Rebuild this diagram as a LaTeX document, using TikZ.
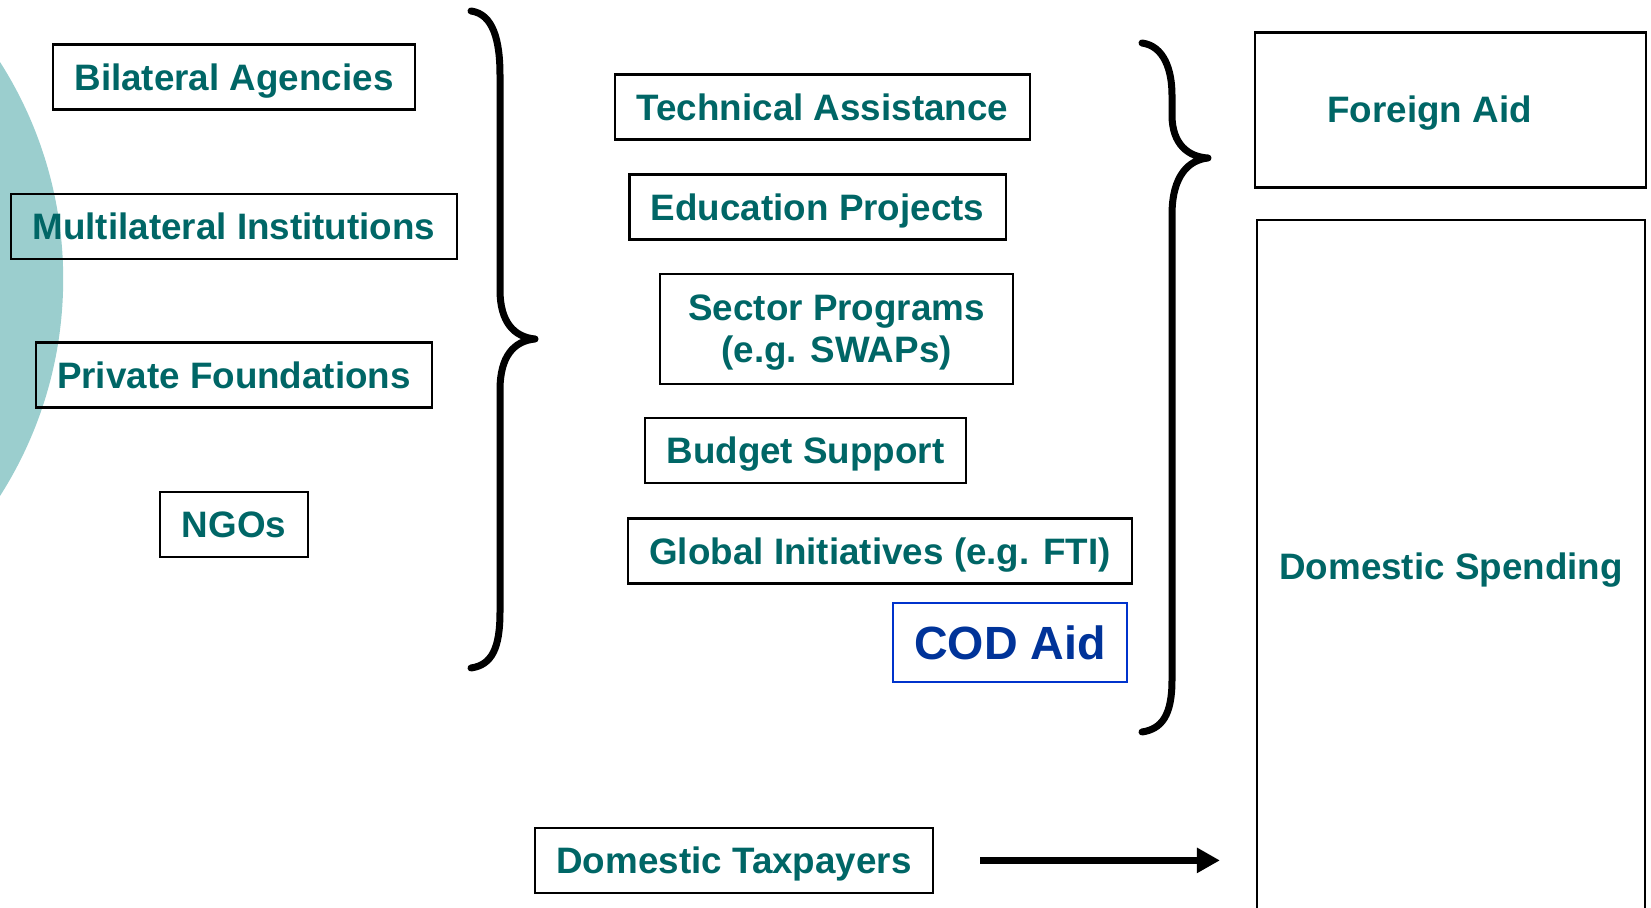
\documentclass[tikz,border=0pt]{standalone}
\usepackage{fontspec}
\setmainfont{Liberation Sans}
\usetikzlibrary{arrows.meta}
\definecolor{aidteal}{RGB}{0,102,102}
\definecolor{aidcircle}{RGB}{155,206,206}
\definecolor{codtext}{RGB}{0,51,153}
\definecolor{codline}{RGB}{0,51,204}
\begin{document}
\begin{tikzpicture}[x = 0.5pt, y = -0.5pt,
  lbl/.style = {text = aidteal, inner sep = 0pt, font = \fontsize{18.4}{21}\selectfont\bfseries},
  boxbase/.style = {lbl, draw, line width = 1.1pt, inner xsep = 10.75pt, inner ysep = 0pt, minimum height = 32.5pt},
  box/.style = {boxbase, text height = 13.2pt, text depth = 0pt},
  panel/.style = {draw, line width = 1.1pt, inner sep = 0pt},
  brace/.style = {line width = 3.5pt, line cap = round, line join = round},
  flow/.style = {line width = 3.5pt, -{Triangle[length = 11.5pt, width = 12pt]}}]
\useasboundingbox (0,0) rectangle (1651,908);
\clip (0,0) rectangle (1651,908);
\fill[color = aidcircle] (-340.6,279) circle[radius = 403.8];
\node[box] (bilateral) at (234,77) {Bilateral Agencies};
\node[box] (multilateral) at (234,226.5) {Multilateral Institutions};
\node[box] (private) at (234,375) {Private Foundations};
\node[box] (ngos) at (234,524.5) {NGOs};
\node[box] (technical) at (822.5,107) {Technical Assistance};
\node[box] (education) at (817.6,207) {Education Projects};
\node[boxbase, align = center, text depth = 0pt, minimum width = 176.5pt, minimum height = 55pt] (sector) at (836.6,329) {Sector Programs\\(e.g. SWAPs)};
\node[box] (budget) at (805.5,450.7) {Budget Support};
\node[box] (global) at (880,551) {Global Initiatives (e.g. FTI)};
\node[box, draw = codline, text = codtext, line width = 1pt, minimum height = 39.5pt, text height = 16.7pt, font = \fontsize{23.3}{28}\selectfont\bfseries] (cod) at (1010,643) {COD Aid};
\node[box] (taxpayers) at (734,860.4) {Domestic Taxpayers};
\node[panel, minimum width = 195.5pt, minimum height = 77.5pt] (foreign) at (1450.5,110) {};
\node[lbl, text height = 13.2pt, text depth = 0pt] (foreigntext) at (1429.5,109.5) {Foreign Aid};
\node[panel, minimum width = 194pt, minimum height = 360pt] (spending) at (1451,580) {};
\node[lbl, text height = 13.2pt, text depth = 0pt] (spendingtext) at (1451,566.5) {Domestic Spending};
\draw[brace] (471,11) .. controls (493,14) and (500,40) .. (500,75) -- (500,290) .. controls (500,322) and (514,337) .. (535,339) .. controls (514,341) and (500,356) .. (500,390) -- (500,612) .. controls (500,648) and (492,665) .. (471,668);
\draw[brace] (1142,43) .. controls (1164,46) and (1172,70) .. (1172,95) -- (1172,115) .. controls (1172,145) and (1189,157) .. (1208,158) .. controls (1189,160) and (1172,175) .. (1172,215) -- (1172,680) .. controls (1172,715) and (1162,729) .. (1142,732);
\draw[flow, shorten < = 23pt, shorten > = 18pt] (taxpayers.east) -- (taxpayers.east -| spending.west);
\end{tikzpicture}
\end{document}
